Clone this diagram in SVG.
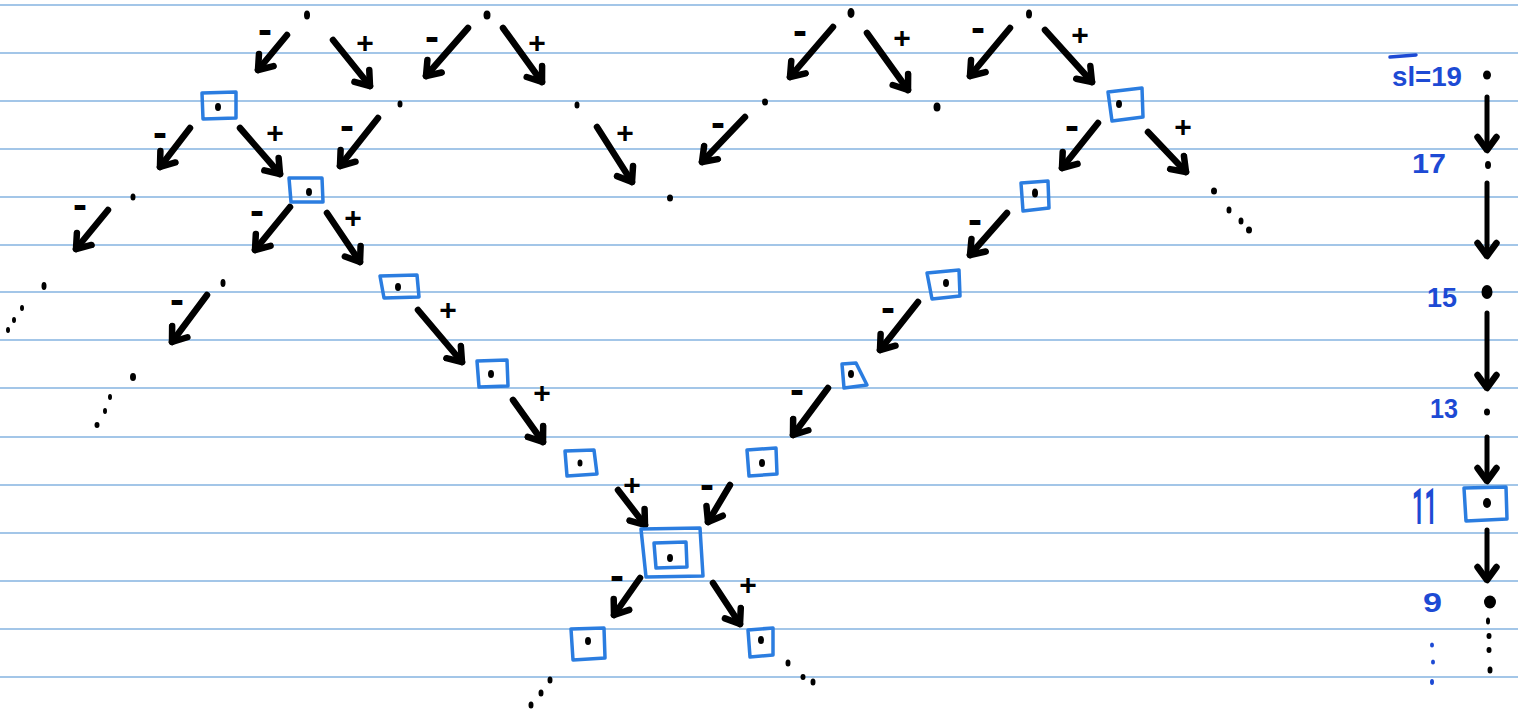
<svg xmlns="http://www.w3.org/2000/svg" width="1518" height="713" viewBox="0 0 1518 713">
<defs>
<style>
.paper{stroke:#a3c6e8;stroke-width:2}
.arr{stroke:#000;stroke-width:6.5;stroke-linecap:round;fill:none;marker-end:url(#head)}
.varr{stroke:#000;stroke-width:5;stroke-linecap:round;fill:none;marker-end:url(#head)}
.box{fill:none;stroke:#2b7de0;stroke-width:3.5;stroke-linejoin:round}
.dot{fill:#000}
.lab{font-family:"Liberation Sans",Arial,sans-serif;font-weight:bold;font-size:30px;fill:#000;text-anchor:middle}
.mlab{font-family:"Liberation Sans",Arial,sans-serif;font-weight:bold;font-size:42px;fill:#000;text-anchor:middle}
.num{font-family:"Liberation Sans",Arial,sans-serif;font-weight:bold;font-size:27px;fill:#1d4ad4}
.bdot{fill:#1d4ad4}
</style>
<marker id="head" markerUnits="userSpaceOnUse" markerWidth="26" markerHeight="26" viewBox="0 0 26 26" refX="19" refY="13" orient="auto">
<path d="M6,3.5 L19,13 L6,22.5" fill="none" stroke="#000" stroke-width="6.5" stroke-linejoin="round" stroke-linecap="round"/>
</marker>
</defs>
<rect width="1518" height="713" fill="#fff"/>
<g id="paper">
<line class="paper" x1="0" y1="5" x2="1518" y2="5"/>
<line class="paper" x1="0" y1="53" x2="1518" y2="53"/>
<line class="paper" x1="0" y1="101" x2="1518" y2="101"/>
<line class="paper" x1="0" y1="149" x2="1518" y2="149"/>
<line class="paper" x1="0" y1="197" x2="1518" y2="197"/>
<line class="paper" x1="0" y1="245" x2="1518" y2="245"/>
<line class="paper" x1="0" y1="292" x2="1518" y2="292"/>
<line class="paper" x1="0" y1="340" x2="1518" y2="340"/>
<line class="paper" x1="0" y1="388" x2="1518" y2="388"/>
<line class="paper" x1="0" y1="437" x2="1518" y2="437"/>
<line class="paper" x1="0" y1="485" x2="1518" y2="485"/>
<line class="paper" x1="0" y1="533" x2="1518" y2="533"/>
<line class="paper" x1="0" y1="581" x2="1518" y2="581"/>
<line class="paper" x1="0" y1="629" x2="1518" y2="629"/>
<line class="paper" x1="0" y1="677" x2="1518" y2="677"/>
</g>
<g id="connectors">
<line class="arr" x1="287" y1="35" x2="258" y2="70"/>
<line class="arr" x1="333" y1="40" x2="370" y2="86"/>
<line class="arr" x1="468" y1="28" x2="426" y2="76"/>
<line class="arr" x1="503" y1="28" x2="542" y2="82"/>
<line class="arr" x1="833" y1="27" x2="790" y2="77"/>
<line class="arr" x1="867" y1="33" x2="908" y2="90"/>
<line class="arr" x1="1010" y1="28" x2="970" y2="76"/>
<line class="arr" x1="1045" y1="30" x2="1092" y2="82"/>
<line class="arr" x1="190" y1="128" x2="160" y2="167"/>
<line class="arr" x1="240" y1="128" x2="280" y2="174"/>
<line class="arr" x1="378" y1="118" x2="340" y2="166"/>
<line class="arr" x1="597" y1="127" x2="632" y2="182"/>
<line class="arr" x1="745" y1="117" x2="702" y2="162"/>
<line class="arr" x1="1098" y1="123" x2="1062" y2="168"/>
<line class="arr" x1="1148" y1="132" x2="1186" y2="172"/>
<line class="arr" x1="108" y1="210" x2="76" y2="249"/>
<line class="arr" x1="290" y1="207" x2="255" y2="250"/>
<line class="arr" x1="327" y1="213" x2="360" y2="262"/>
<line class="arr" x1="1007" y1="213" x2="970" y2="255"/>
<line class="arr" x1="207" y1="295" x2="172" y2="342"/>
<line class="arr" x1="418" y1="310" x2="462" y2="362"/>
<line class="arr" x1="918" y1="302" x2="880" y2="350"/>
<line class="arr" x1="513" y1="400" x2="543" y2="442"/>
<line class="arr" x1="828" y1="388" x2="793" y2="435"/>
<line class="arr" x1="618" y1="490" x2="645" y2="525"/>
<line class="arr" x1="730" y1="485" x2="708" y2="522"/>
<line class="arr" x1="640" y1="578" x2="614" y2="615"/>
<line class="arr" x1="713" y1="583" x2="740" y2="624"/>
<line class="varr" x1="1487" y1="97" x2="1487" y2="150"/>
<line class="varr" x1="1487" y1="183" x2="1487" y2="256"/>
<line class="varr" x1="1487" y1="313" x2="1487" y2="388"/>
<line class="varr" x1="1487" y1="437" x2="1487" y2="481"/>
<line class="varr" x1="1487" y1="530" x2="1487" y2="580"/>
</g>
<g id="edge-labels">
<text class="mlab" x="265" y="44">-</text>
<text class="mlab" x="432" y="51">-</text>
<text class="mlab" x="800" y="45">-</text>
<text class="mlab" x="978" y="42">-</text>
<text class="mlab" x="160" y="147">-</text>
<text class="mlab" x="347" y="140">-</text>
<text class="mlab" x="718" y="137">-</text>
<text class="mlab" x="1072" y="140">-</text>
<text class="mlab" x="80" y="219">-</text>
<text class="mlab" x="257" y="225">-</text>
<text class="mlab" x="975" y="234">-</text>
<text class="mlab" x="177" y="314">-</text>
<text class="mlab" x="888" y="322">-</text>
<text class="mlab" x="797" y="404">-</text>
<text class="mlab" x="707" y="499">-</text>
<text class="mlab" x="617" y="590">-</text>
<text class="lab" x="365" y="53">+</text>
<text class="lab" x="537" y="53">+</text>
<text class="lab" x="902" y="48">+</text>
<text class="lab" x="1080" y="45">+</text>
<text class="lab" x="275" y="143">+</text>
<text class="lab" x="625" y="143">+</text>
<text class="lab" x="1183" y="137">+</text>
<text class="lab" x="353" y="228">+</text>
<text class="lab" x="448" y="320">+</text>
<text class="lab" x="542" y="403">+</text>
<text class="lab" x="632" y="495">+</text>
<text class="lab" x="748" y="595">+</text>
</g>
<g id="n-r1"><ellipse class="dot" cx="307" cy="15" rx="3" ry="4.5"/></g>
<g id="n-r2"><ellipse class="dot" cx="487" cy="15" rx="3.5" ry="4.5"/></g>
<g id="n-r3"><ellipse class="dot" cx="851" cy="13" rx="3.5" ry="5"/></g>
<g id="n-r4"><ellipse class="dot" cx="1029" cy="14" rx="3" ry="4.5"/></g>
<g id="n-b1"><polygon class="box" points="202,93 236,92 236,118 203,119"/><ellipse class="dot" cx="218" cy="107" rx="3" ry="4"/></g>
<g id="n-d1"><ellipse class="dot" cx="400" cy="104" rx="2.5" ry="3.5"/></g>
<g id="n-d2"><ellipse class="dot" cx="577" cy="105" rx="2.5" ry="3.5"/></g>
<g id="n-d3"><ellipse class="dot" cx="765" cy="102" rx="3" ry="3.5"/></g>
<g id="n-d4"><ellipse class="dot" cx="937" cy="107" rx="3.5" ry="4.5"/></g>
<g id="n-b2"><polygon class="box" points="1108,92 1142,88 1143,117 1112,121"/><ellipse class="dot" cx="1119" cy="104" rx="3" ry="4"/></g>
<g id="n-d5"><ellipse class="dot" cx="133" cy="197" rx="2.5" ry="3.5"/></g>
<g id="n-b3"><polygon class="box" points="289,178 322,178 323,202 291,202"/><ellipse class="dot" cx="309" cy="192" rx="3" ry="4"/></g>
<g id="n-d6"><ellipse class="dot" cx="670" cy="198" rx="3" ry="3.5"/></g>
<g id="n-b4"><polygon class="box" points="1021,183 1048,181 1049,208 1023,211"/><ellipse class="dot" cx="1035" cy="193" rx="3" ry="4.5"/></g>
<g id="n-d7"><ellipse class="dot" cx="1214" cy="191" rx="3" ry="3.5"/><ellipse class="dot" cx="1229" cy="210" rx="2.5" ry="3.5"/><ellipse class="dot" cx="1241" cy="221" rx="2.5" ry="3.5"/><ellipse class="dot" cx="1249" cy="230" rx="3" ry="3.5"/></g>
<g id="n-d8"><ellipse class="dot" cx="44" cy="286" rx="2.5" ry="4"/><ellipse class="dot" cx="22" cy="308" rx="2" ry="3"/><ellipse class="dot" cx="14" cy="320" rx="2" ry="3"/><ellipse class="dot" cx="8" cy="330" rx="2" ry="3"/></g>
<g id="n-d9"><ellipse class="dot" cx="223" cy="283" rx="2.5" ry="4"/></g>
<g id="n-b5"><polygon class="box" points="380,276 417,275 419,297 384,298"/><ellipse class="dot" cx="398" cy="287" rx="3" ry="4"/></g>
<g id="n-b6"><polygon class="box" points="927,273 959,270 960,296 932,299"/><ellipse class="dot" cx="946" cy="283" rx="3" ry="4"/></g>
<g id="n-d10"><ellipse class="dot" cx="133" cy="377" rx="3" ry="4"/><ellipse class="dot" cx="110" cy="397" rx="2" ry="3"/><ellipse class="dot" cx="105" cy="411" rx="2" ry="3"/><ellipse class="dot" cx="97" cy="425" rx="2.5" ry="3"/></g>
<g id="n-b7"><polygon class="box" points="477,361 507,360 508,386 479,387"/><ellipse class="dot" cx="491" cy="374" rx="3" ry="4"/></g>
<g id="n-b8"><polygon class="box" points="842,364 856,363 867,385 844,388"/><ellipse class="dot" cx="851" cy="374" rx="3" ry="4"/></g>
<g id="n-b9"><polygon class="box" points="565,451 594,450 597,474 567,476"/><ellipse class="dot" cx="580" cy="463" rx="2.5" ry="3.5"/></g>
<g id="n-b10"><polygon class="box" points="747,450 776,448 777,474 749,476"/><ellipse class="dot" cx="762" cy="463" rx="3" ry="4"/></g>
<g id="n-center"><polygon class="box" points="641,529 700,528 703,576 646,577"/><polygon class="box" points="654,543 686,542 687,567 656,568"/><ellipse class="dot" cx="670" cy="558" rx="3" ry="4"/></g>
<g id="n-b11"><polygon class="box" points="571,629 604,628 605,658 573,660"/><ellipse class="dot" cx="588" cy="641" rx="3" ry="4"/><ellipse class="dot" cx="550" cy="680" rx="2.5" ry="3.5"/><ellipse class="dot" cx="541" cy="693" rx="2.5" ry="3.5"/><ellipse class="dot" cx="531" cy="705" rx="2.5" ry="3.5"/></g>
<g id="n-b12"><polygon class="box" points="748,630 773,628 773,655 750,657"/><ellipse class="dot" cx="761" cy="640" rx="3" ry="4"/><ellipse class="dot" cx="788" cy="663" rx="2.5" ry="3.5"/><ellipse class="dot" cx="803" cy="677" rx="2.5" ry="3"/><ellipse class="dot" cx="813" cy="682" rx="2.5" ry="3.5"/></g>
<g id="scale">
<line x1="1390" y1="57" x2="1416" y2="55" stroke="#1d4ad4" stroke-width="3.5" stroke-linecap="round"/>
<text class="num" x="1392" y="86" textLength="70" lengthAdjust="spacingAndGlyphs">sl=19</text>
<text class="num" x="1412" y="173" textLength="34" lengthAdjust="spacingAndGlyphs">17</text>
<text class="num" x="1427" y="307" textLength="30" lengthAdjust="spacingAndGlyphs">15</text>
<text class="num" x="1430" y="418" textLength="28" lengthAdjust="spacingAndGlyphs">13</text>
<text class="num" x="1412" y="524" style="font-family:Roboto,'Open Sans',sans-serif;font-size:50px;font-weight:bold" textLength="25" lengthAdjust="spacingAndGlyphs">11</text>
<text class="num" x="1423" y="612" textLength="19" lengthAdjust="spacingAndGlyphs">9</text>
<ellipse class="bdot" cx="1432" cy="645" rx="2" ry="2.5"/>
<ellipse class="bdot" cx="1433" cy="662" rx="2" ry="2.5"/>
<ellipse class="bdot" cx="1432" cy="682" rx="2" ry="3"/>
</g>
<g id="s19"><ellipse class="dot" cx="1487" cy="75" rx="4" ry="4.5"/></g>
<g id="s17"><ellipse class="dot" cx="1488" cy="165" rx="3" ry="4"/></g>
<g id="s15"><ellipse class="dot" cx="1487" cy="292" rx="5.5" ry="7"/></g>
<g id="s13"><ellipse class="dot" cx="1487" cy="412" rx="3" ry="3.5"/></g>
<g id="s11"><polygon class="box" points="1464,488 1506,487 1507,519 1466,521"/><ellipse class="dot" cx="1487" cy="503" rx="4" ry="5"/></g>
<g id="s9"><ellipse class="dot" cx="1490" cy="602" rx="6" ry="6.5"/><ellipse class="dot" cx="1488" cy="621" rx="2" ry="3.5"/><ellipse class="dot" cx="1489" cy="636" rx="2.5" ry="3"/><ellipse class="dot" cx="1489" cy="650" rx="2.5" ry="3"/><ellipse class="dot" cx="1490" cy="670" rx="2.5" ry="3.5"/></g>
</svg>
